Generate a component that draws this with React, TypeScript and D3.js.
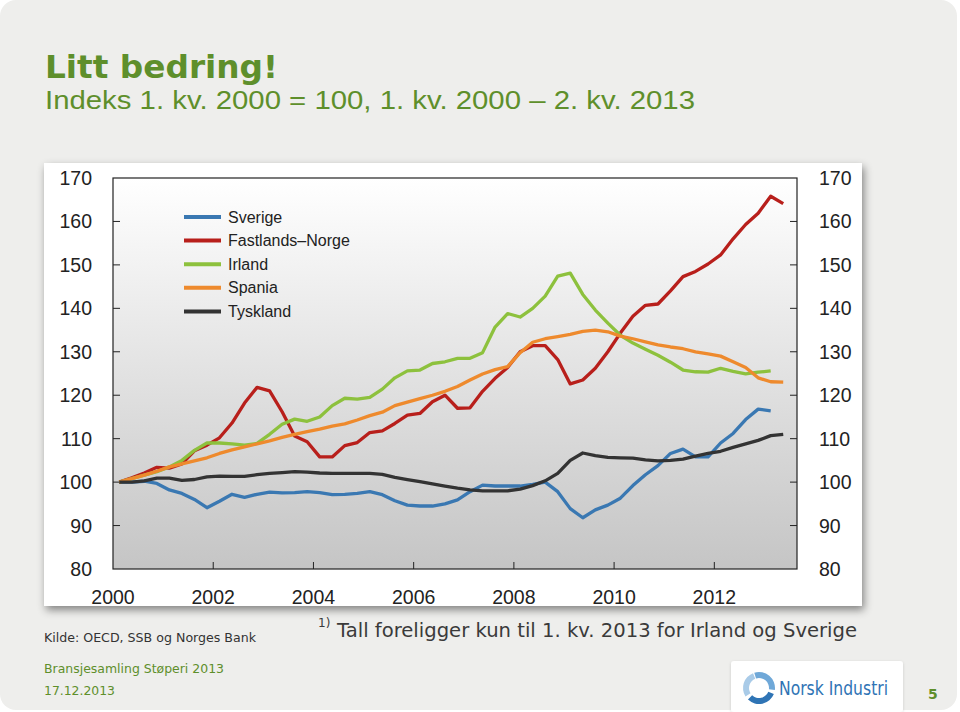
import React from "react";
import * as d3 from "d3";

// ---- Data (quarterly index, 1. kv. 2000 = 100) ----
const seriesNames = ["Sverige", "Fastlands\u2013Norge", "Irland", "Spania", "Tyskland"];
const seriesColors = ["#3A78B2", "#B81F1B", "#8DC13D", "#EE8A2D", "#333333"];

const sverige = [100, 100, 100.2, 99.7, 98.2, 97.4, 96, 94.1, 95.6, 97.2, 96.5, 97.2, 97.7, 97.5, 97.6, 97.8, 97.6, 97.1, 97.2, 97.4, 97.8, 97.1, 95.7, 94.7, 94.5, 94.5, 95, 95.9, 97.8, 99.3, 99.1, 99.1, 99.1, 99.5, 100, 97.8, 93.9, 91.8, 93.6, 94.7, 96.3, 99.2, 101.7, 103.8, 106.6, 107.6, 105.8, 105.8, 109, 111.2, 114.4, 116.8, 116.4];
const norge = [100, 101, 102.1, 103.4, 103.2, 104.2, 107.2, 108.5, 110.2, 113.6, 118.2, 121.8, 121, 116.2, 110.6, 109.3, 105.8, 105.8, 108.4, 109.1, 111.4, 111.8, 113.5, 115.4, 115.8, 118.5, 120, 117, 117.1, 120.9, 123.9, 126.4, 130, 131.4, 131.4, 128.2, 122.6, 123.5, 126.2, 130, 134.3, 138.2, 140.7, 141, 144, 147.3, 148.5, 150.2, 152.3, 156, 159.3, 161.9, 165.8, 164.1];
const irland = [100, 100.8, 101.6, 102.4, 103.5, 105, 107.3, 109, 109, 108.8, 108.5, 108.9, 111, 113.3, 114.5, 114, 115, 117.6, 119.3, 119.1, 119.5, 121.4, 124, 125.6, 125.8, 127.3, 127.7, 128.5, 128.5, 129.8, 135.7, 138.8, 138, 140, 142.8, 147.4, 148.1, 143.2, 139.6, 136.6, 133.8, 132, 130.6, 129.2, 127.6, 125.8, 125.4, 125.3, 126.2, 125.5, 124.9, 125.3, 125.6];
const spania = [100, 100.8, 101.6, 102.5, 103.5, 104.2, 104.9, 105.6, 106.6, 107.4, 108.1, 108.8, 109.5, 110.3, 111, 111.6, 112.2, 112.9, 113.4, 114.3, 115.3, 116.1, 117.6, 118.4, 119.2, 120, 120.9, 122, 123.5, 124.9, 125.9, 126.6, 129.8, 132.2, 133, 133.5, 134, 134.7, 135, 134.6, 133.6, 133, 132.3, 131.6, 131.1, 130.7, 130, 129.5, 129, 127.7, 126.4, 124, 123.1, 123];
const tyskland = [100, 100, 100.3, 100.9, 100.9, 100.4, 100.6, 101.2, 101.4, 101.3, 101.3, 101.7, 102, 102.2, 102.4, 102.3, 102.1, 102, 102, 102, 102, 101.8, 101.1, 100.6, 100.1, 99.6, 99.1, 98.6, 98.2, 98, 98, 98, 98.4, 99.2, 100.3, 102, 105, 106.7, 106.1, 105.7, 105.6, 105.5, 105.1, 104.9, 105, 105.3, 106, 106.6, 107.1, 108, 108.8, 109.6, 110.7, 111];

const seriesValues = [sverige, norge, irland, spania, tyskland];

const yearTicks = [2000, 2002, 2004, 2006, 2008, 2010, 2012];
const valueTicks = [80, 90, 100, 110, 120, 130, 140, 150, 160, 170];

const GREEN = "#5E8F2B";

export default function App() {
  const x = d3.scaleLinear().domain([2000, 2013.65]).range([113, 797]);
  const y = d3.scaleLinear().domain([80, 170]).range([569, 178]);
  const startYear = 2000;
  const tq = (i: number) => startYear + (i + 0.5) / 4;
  const line = d3
    .line<number>()
    .x((_, i) => x(tq(i)))
    .y((d) => y(d));

  const [x0, x1] = x.range();
  const [yb, yt] = y.range();

  const arc = d3.arc<any>();
  const logoArcs = [
    { s: -0.3, e: 1.7, c: "#6FA8D8" },
    { s: 1.95, e: 3.9, c: "#2F74B5" },
    { s: 4.15, e: 5.9, c: "#A9CBE8" },
  ];

  return (
    <svg
      width={960}
      height={712}
      style={{ position: "absolute", left: 0, top: 0 }}
      xmlns="http://www.w3.org/2000/svg"
    >
      <defs>
        <linearGradient id="plotbg" x1="0" y1="0" x2="0" y2="1">
          <stop offset="0" stopColor="#FFFFFF" />
          <stop offset="1" stopColor="#C5C5C5" />
        </linearGradient>
        <filter id="shadow" x="-5%" y="-5%" width="110%" height="115%">
          <feDropShadow dx="2" dy="4" stdDeviation="4" floodColor="#000" floodOpacity="0.45" />
        </filter>
        <filter id="shadow2" x="-10%" y="-10%" width="120%" height="130%">
          <feDropShadow dx="0" dy="1" stdDeviation="1.5" floodColor="#000" floodOpacity="0.15" />
        </filter>
      </defs>

      <rect x={0} y={0} width={960} height={712} fill="#FFFFFF" />
      <rect x={0} y={0} width={957} height={710} rx={16} fill="#EEEEEC" />

      {/* Title */}
      <text x={45} y={78} fontFamily="'DejaVu Sans', Verdana, sans-serif" fontWeight="bold" fontSize={32} fill={GREEN} textLength={233} lengthAdjust="spacingAndGlyphs">
        Litt bedring!
      </text>
      <text x={45} y={109} fontFamily="'Liberation Sans', Arial, sans-serif" fontSize={25} fill={GREEN} textLength={650} lengthAdjust="spacingAndGlyphs">
        Indeks 1. kv. 2000 = 100, 1. kv. 2000 – 2. kv. 2013
      </text>

      {/* Chart panel */}
      <rect x={44} y={163} width={818} height={443} fill="#FFFFFF" filter="url(#shadow)" />
      <rect x={x0} y={yt} width={x1 - x0} height={yb - yt} fill="url(#plotbg)" />

      {/* ticks */}
      {valueTicks.slice(1, -1).map((v) => (
        <g key={"t" + v}>
          <line x1={x0} x2={x0 + 7} y1={y(v)} y2={y(v)} stroke="#222" strokeWidth={1} />
          <line x1={x1} x2={x1 - 7} y1={y(v)} y2={y(v)} stroke="#222" strokeWidth={1} />
        </g>
      ))}
      {yearTicks.slice(1).map((yr) => (
        <line key={"xt" + yr} x1={x(yr)} x2={x(yr)} y1={yb} y2={yb - 7} stroke="#222" strokeWidth={1} />
      ))}

      {/* lines */}
      {seriesValues.map((vals, si) => (
        <path
          key={seriesNames[si]}
          d={line(vals) || ""}
          fill="none"
          stroke={seriesColors[si]}
          strokeWidth={3.3}
          strokeLinejoin="round"
          strokeLinecap="butt"
        />
      ))}

      {/* frame */}
      <rect x={x0} y={yt} width={x1 - x0} height={yb - yt} fill="none" stroke="#222" strokeWidth={1.2} />

      {/* y labels */}
      {valueTicks.map((v) => (
        <g key={"yl" + v} fontFamily="'Liberation Sans', Arial, sans-serif" fontSize={19.5} fill="#222">
          <text x={92} y={y(v)} textAnchor="end" dominantBaseline="central">
            {v}
          </text>
          <text x={819} y={y(v)} textAnchor="start" dominantBaseline="central">
            {v}
          </text>
        </g>
      ))}
      {/* x labels */}
      {yearTicks.map((yr) => (
        <text
          key={"xl" + yr}
          x={x(yr)}
          y={597}
          textAnchor="middle"
          dominantBaseline="central"
          fontFamily="'Liberation Sans', Arial, sans-serif"
          fontSize={19.5}
          fill="#222"
        >
          {yr}
        </text>
      ))}

      {/* legend */}
      {seriesNames.map((name, i) => {
        const ly = 217 + i * 23.6;
        return (
          <g key={"lg" + name}>
            <line x1={184} x2={221} y1={ly} y2={ly} stroke={seriesColors[i]} strokeWidth={4} />
            <text x={228} y={ly} dominantBaseline="central" fontFamily="'Liberation Sans', Arial, sans-serif" fontSize={16} fill="#222">
              {name}
            </text>
          </g>
        );
      })}

      {/* footnote & source */}
      <text x={318} y={627} fontFamily="'DejaVu Sans', Tahoma, sans-serif" fontSize={12} fill="#3A3A3A">
        1)
      </text>
      <text x={337} y={637} fontFamily="'DejaVu Sans', Tahoma, sans-serif" fontSize={20} fill="#3A3A3A" textLength={520} lengthAdjust="spacingAndGlyphs">
        Tall foreligger kun til 1. kv. 2013 for Irland og Sverige
      </text>
      <text x={44} y={642} fontFamily="'DejaVu Sans', Tahoma, sans-serif" fontSize={13} fill="#333" textLength={212} lengthAdjust="spacingAndGlyphs">
        Kilde: OECD, SSB og Norges Bank
      </text>

      {/* footer */}
      <text x={44} y={673} fontFamily="'DejaVu Sans', Tahoma, sans-serif" fontSize={13} fill={GREEN} textLength={180} lengthAdjust="spacingAndGlyphs">
        Bransjesamling Støperi 2013
      </text>
      <text x={44} y={695} fontFamily="'DejaVu Sans', Tahoma, sans-serif" fontSize={13} fill={GREEN} textLength={71} lengthAdjust="spacingAndGlyphs">
        17.12.2013
      </text>

      {/* logo */}
      <rect x={731} y={661} width={172} height={51} rx={3} fill="#FFFFFF" filter="url(#shadow2)" />
      <g transform="translate(759,688)">
        {logoArcs.map((a, i) => (
          <path
            key={"la" + i}
            d={arc({ innerRadius: 10, outerRadius: 16, startAngle: a.s, endAngle: a.e }) || ""}
            fill={a.c}
          />
        ))}
      </g>
      <text x={779} y={695} fontFamily="'DejaVu Sans', Tahoma, sans-serif" fontSize={19} fill="#2F74B5" textLength={109} lengthAdjust="spacingAndGlyphs">
        Norsk Industri
      </text>
      <text x={928} y={699} fontFamily="'DejaVu Sans', Tahoma, sans-serif" fontSize={14} fontWeight="bold" fill={GREEN}>
        5
      </text>
    </svg>
  );
}
